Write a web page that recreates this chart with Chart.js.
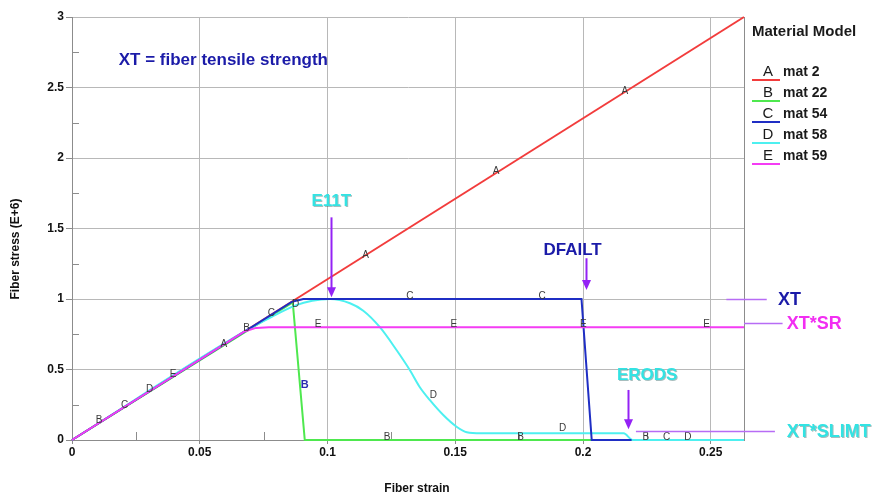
<!DOCTYPE html>
<html>
<head>
<meta charset="utf-8">
<script src="https://cdn.jsdelivr.net/npm/chart.js@4.4.1/dist/chart.umd.min.js"></script>
<style>
html,body{margin:0;padding:0;background:#fff;}
canvas{display:block;}
</style>
</head>
<body>
<canvas id="c" width="877" height="496"></canvas>
<script>
// ---------- data ----------
const strainA = [0, 0.263];
const stressA = [0, 3.0];
const strainB = [0, 0.0864, 0.0911, 0.2035];
const stressB = [0, 0.975, 0, 0];
const strainC = [0, 0.086, 0.0905, 0.1994, 0.2034, 0.219];
const stressC = [0, 0.98, 1.0, 1.0, 0, 0];
const strainD = [0, 0.068, 0.078, 0.0875, 0.094, 0.101, 0.1088, 0.114, 0.1205, 0.127, 0.1322, 0.136, 0.140, 0.1453, 0.1505, 0.1545, 0.160, 0.2159, 0.2194, 0.263];
const stressD = [0, 0.775, 0.872, 0.955, 0.988, 1.0, 0.97, 0.917, 0.80, 0.638, 0.496, 0.378, 0.284, 0.177, 0.094, 0.055, 0.047, 0.047, 0, 0];
const strainE = [0, 0.0675, 0.072, 0.077, 0.263];
const stressE = [0, 0.77, 0.795, 0.8, 0.8];

const seriesNames = ['mat 2', 'mat 22', 'mat 54', 'mat 58', 'mat 59'];
const seriesLetters = ['A', 'B', 'C', 'D', 'E'];

// letter markers along the curves
const markAx = [0.0594, 0.1149, 0.166, 0.2164];
const markAy = [0.68, 1.31, 1.905, 2.475];
const markBx = [0.0106, 0.0683, 0.1233, 0.1756, 0.2246];
const markBy = [0.137, 0.79, 0.023, 0.02, 0.023];
const markCx = [0.0206, 0.078, 0.1322, 0.184, 0.2327];
const markCy = [0.243, 0.90, 1.02, 1.02, 0.023];
const markDx = [0.0304, 0.0875, 0.1414, 0.192, 0.241];
const markDy = [0.36, 0.965, 0.319, 0.083, 0.023];
const markEx = [0.0396, 0.0963, 0.1494, 0.2001, 0.2484];
const markEy = [0.466, 0.82, 0.82, 0.82, 0.82];
const markBoldBx = [0.0911];
const markBoldBy = [0.39];

const xTicks = [0, 0.05, 0.1, 0.15, 0.2, 0.25];
const xTickLabels = ['0', '0.05', '0.1', '0.15', '0.2', '0.25'];
const yTicks = [0, 0.5, 1, 1.5, 2, 2.5, 3];
const yTickLabels = ['0', '0.5', '1', '1.5', '2', '2.5', '3'];
const xMinor = [0.025, 0.075, 0.125, 0.175, 0.225];
const yMinor = [0.25, 0.75, 1.25, 1.75, 2.25, 2.75];

// annotation texts and anchor values (strain, stress)
const noteTitle = 'XT = fiber tensile strength';
const noteTitleAt = [0.0183, 2.695];
const noteE11T = 'E11T';
const noteE11TAt = [0.1015, 1.695];
const arrowE11T = [0.1015, 1.579, 1.012];
const noteDFAILT = 'DFAILT';
const noteDFAILTAt = [0.1959, 1.348];
const arrowDFAILT = [0.2011, 1.289, 1.064];
const noteERODS = 'ERODS';
const noteERODSAt = [0.2251, 0.461];
const arrowERODS = [0.2175, 0.355, 0.076];
const levelNames = ['XT', 'XT*SR', 'XT*SLIMT'];
const levelStress = [0.998, 0.828, 0.066];
const levelLineFrom = [0.2561, 0.263, 0.2207];
const levelLineTo = [0.2719, 0.2781, 0.2751];
const levelTextAt = [0.2763, 0.2797, 0.2797];

// ---------- styles ----------
const colors = ['#f23c3c', '#4ee84e', '#1f2ec4', '#4df0f0', '#f43cf4'];
const FONT = '"Liberation Sans", Arial, sans-serif';
const purple = '#9422f5';
const purpleLight = '#b76cf5';
const darkBlue = '#1b1ba8';
const cyanText = '#33e3e3';
const magentaText = '#f22ef2';

function pts(xs, ys) { return xs.map((x, i) => ({x: x, y: ys[i]})); }

const annot = {
  id: 'annot',
  beforeDatasetsDraw(chart) {
    const ctx = chart.ctx, xs = chart.scales.x, ys = chart.scales.y, a = chart.chartArea;
    ctx.save();
    ctx.strokeStyle = '#8c8c8c';
    ctx.lineWidth = 1;
    ctx.beginPath();
    const rx = Math.round(a.right) + 0.5;
    ctx.moveTo(rx, a.top); ctx.lineTo(rx, a.bottom);
    yMinor.forEach(v => { const y = Math.round(ys.getPixelForValue(v)) + 0.5; ctx.moveTo(a.left, y); ctx.lineTo(a.left + 7, y); });
    xMinor.forEach(v => { const x = Math.round(xs.getPixelForValue(v)) + 0.5; ctx.moveTo(x, a.bottom); ctx.lineTo(x, a.bottom - 8); });
    ctx.stroke();
    ctx.restore();
  },
  afterDatasetsDraw(chart) {
    const ctx = chart.ctx, xs = chart.scales.x, ys = chart.scales.y;
    ctx.save();
    ctx.textAlign = 'center';
    ctx.textBaseline = 'middle';
    ctx.font = '10px ' + FONT;
    ctx.fillStyle = '#3a3a3a';
    const groups = [[markAx, markAy, 'A'], [markBx, markBy, 'B'], [markCx, markCy, 'C'], [markDx, markDy, 'D'], [markEx, markEy, 'E']];
    groups.forEach(g => g[0].forEach((x, i) => ctx.fillText(g[2], xs.getPixelForValue(x), ys.getPixelForValue(g[1][i]))));
    ctx.font = 'bold 11px ' + FONT;
    ctx.fillStyle = '#2a2ab0';
    markBoldBx.forEach((x, i) => ctx.fillText('B', xs.getPixelForValue(x), ys.getPixelForValue(markBoldBy[i])));
    ctx.restore();
  },
  afterDraw(chart) {
    const ctx = chart.ctx, xs = chart.scales.x, ys = chart.scales.y;
    const px = v => xs.getPixelForValue(v), py = v => ys.getPixelForValue(v);
    ctx.save();
    ctx.textBaseline = 'middle';

    function text(t, x, y, color, size, align) {
      ctx.font = 'bold ' + size + 'px ' + FONT;
      ctx.textAlign = align;
      ctx.fillStyle = color;
      ctx.fillText(t, x, y);
    }
    function shadowText(t, x, y, color, size, align) {
      ctx.font = 'bold ' + size + 'px ' + FONT;
      ctx.textAlign = align;
      ctx.fillStyle = 'rgba(60,110,110,0.45)';
      ctx.fillText(t, x + 1, y + 1);
      ctx.fillStyle = color;
      ctx.fillText(t, x, y);
    }
    function arrow(spec) {
      const x = Math.round(px(spec[0])) + 0.5, y0 = py(spec[1]), y1 = py(spec[2]);
      ctx.strokeStyle = purple; ctx.fillStyle = purple; ctx.lineWidth = 2;
      ctx.beginPath(); ctx.moveTo(x, y0); ctx.lineTo(x, y1 - 8); ctx.stroke();
      ctx.beginPath(); ctx.moveTo(x - 4.5, y1 - 10); ctx.lineTo(x + 4.5, y1 - 10); ctx.lineTo(x, y1); ctx.closePath(); ctx.fill();
    }

    text(noteTitle, px(noteTitleAt[0]), py(noteTitleAt[1]), darkBlue, 17, 'left');
    shadowText(noteE11T, px(noteE11TAt[0]), py(noteE11TAt[1]), cyanText, 17, 'center');
    arrow(arrowE11T);
    text(noteDFAILT, px(noteDFAILTAt[0]), py(noteDFAILTAt[1]), darkBlue, 17, 'center');
    arrow(arrowDFAILT);
    shadowText(noteERODS, px(noteERODSAt[0]), py(noteERODSAt[1]), cyanText, 17, 'center');
    arrow(arrowERODS);

    const levelColors = [darkBlue, magentaText, cyanText];
    levelNames.forEach((n, i) => {
      const y = Math.round(py(levelStress[i])) + 0.5;
      ctx.strokeStyle = purpleLight; ctx.lineWidth = 1.5;
      ctx.beginPath(); ctx.moveTo(px(levelLineFrom[i]), y); ctx.lineTo(px(levelLineTo[i]), y); ctx.stroke();
      if (i === 2) shadowText(n, px(levelTextAt[i]), y + 1, levelColors[i], 18, 'left');
      else text(n, px(levelTextAt[i]), y + 1, levelColors[i], 18, 'left');
    });

    // legend
    ctx.textAlign = 'left';
    ctx.font = 'bold 15px ' + FONT;
    ctx.fillStyle = '#1a1a1a';
    ctx.fillText('Material Model', 752, 32);
    seriesNames.forEach((n, i) => {
      const y = 72 + i * 21;
      ctx.strokeStyle = colors[i]; ctx.lineWidth = 2;
      ctx.beginPath(); ctx.moveTo(752, y + 8); ctx.lineTo(780, y + 8); ctx.stroke();
      ctx.font = '15px ' + FONT; ctx.fillStyle = '#1a1a1a'; ctx.textAlign = 'center';
      ctx.fillText(seriesLetters[i], 768, y);
      ctx.font = 'bold 14px ' + FONT; ctx.textAlign = 'left';
      ctx.fillText(n, 783, y);
    });

    // axis titles
    ctx.fillStyle = '#111';
    ctx.font = 'bold 12px ' + FONT;
    ctx.textAlign = 'center';
    ctx.fillText('Fiber strain', 417, 489);
    ctx.translate(16, 249);
    ctx.rotate(-Math.PI / 2);
    ctx.fillText('Fiber stress (E+6)', 0, 0);
    ctx.restore();
  }
};

const ds = (xs, ys, i, order, extra) => Object.assign({
  label: seriesNames[i], data: pts(xs, ys), borderColor: colors[i], backgroundColor: colors[i],
  borderWidth: 2, pointRadius: 0, fill: false, tension: 0, order: order, clip: 4
}, extra || {});

new Chart(document.getElementById('c'), {
  type: 'line',
  data: {
    datasets: [
      ds(strainA, stressA, 0, 5),
      ds(strainB, stressB, 1, 4),
      ds(strainD, stressD, 3, 3, {cubicInterpolationMode: 'monotone'}),
      ds(strainC, stressC, 2, 2),
      ds(strainE, stressE, 4, 1)
    ]
  },
  options: {
    responsive: false,
    animation: false,
    devicePixelRatio: 1,
    layout: {padding: {left: 0, top: 17, right: 133, bottom: 0}},
    plugins: {legend: {display: false}, tooltip: {enabled: false}},
    scales: {
      x: {
        type: 'linear', min: 0, max: 0.263,
        afterBuildTicks: s => { s.ticks = xTicks.map(v => ({value: v})); },
        afterFit: s => { s.height = 56; },
        ticks: {callback: (v) => xTickLabels[xTicks.indexOf(v)], color: '#111', font: {family: FONT, size: 12, weight: 'bold'}, padding: 1, maxRotation: 0, autoSkip: false},
        grid: {color: '#b8b8b8', lineWidth: 1, tickLength: 4, tickColor: '#8c8c8c'},
        border: {display: true, color: '#8c8c8c'}
      },
      y: {
        type: 'linear', min: 0, max: 3,
        afterBuildTicks: s => { s.ticks = yTicks.map(v => ({value: v})); },
        afterFit: s => { s.width = 72; },
        ticks: {callback: (v) => yTickLabels[yTicks.indexOf(v)], color: '#111', font: {family: FONT, size: 12, weight: 'bold'}, padding: 2, autoSkip: false},
        grid: {color: '#b8b8b8', lineWidth: 1, tickLength: 6, tickColor: '#8c8c8c'},
        border: {display: true, color: '#8c8c8c'}
      }
    }
  },
  plugins: [annot]
});
</script>
</body>
</html>
